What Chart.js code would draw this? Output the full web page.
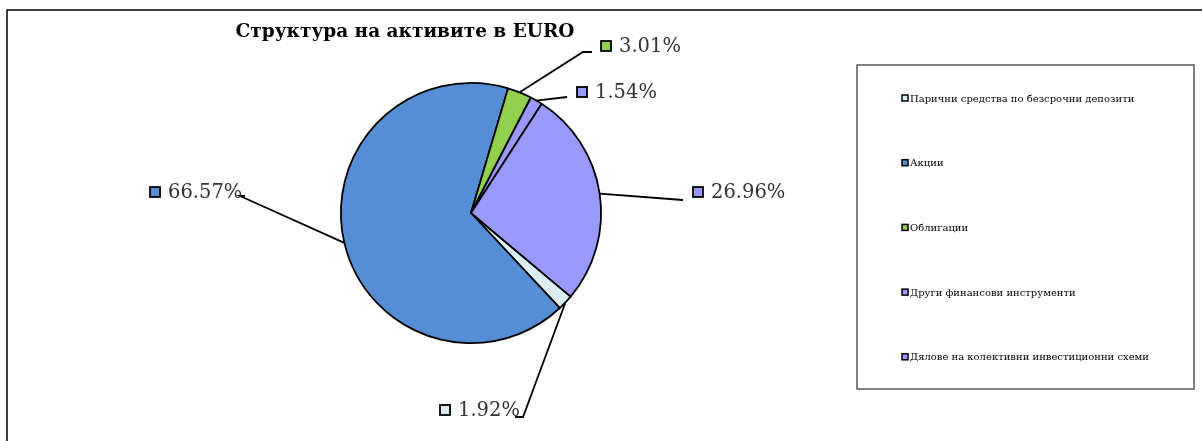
<!DOCTYPE html>
<html>
<head>
<meta charset="utf-8">
<script src="https://cdn.jsdelivr.net/npm/chart.js@4.4.1/dist/chart.umd.min.js"></script>
<style>
  html, body { margin: 0; padding: 0; background: #fff; }
  #wrap { position: relative; width: 1202px; height: 441px; }
</style>
</head>
<body>
<div id="wrap"><canvas id="pie-chart" width="1202" height="441"></canvas></div>
<script>
// chart data
const chartTitle = 'Структура на активите в EURO';
const categories = [
    'Парични средства по безсрочни депозити',
    'Акции',
    'Облигации',
    'Други финансови инструменти',
    'Дялове на колективни инвестиционни схеми'
];
const shares = [1.92, 66.57, 3.01, 1.54, 26.96];
const sliceColors = ['#DBEEF4', '#558ED5', '#92D050', '#9999FF', '#9999FF'];

// label placement around the pie, relative to the pie centre (layout only)
// elbow = where the leader line bends, box = left edge of the label marker
const labelLayout = [
    { elbow: [52, 204], end: [44, 204], box: [-31, 197] },
    { elbow: [-231, -17], end: [-226, -17], box: [-321, -21] },
    { elbow: [112, -161], end: [121, -161], box: [130, -167] },
    { elbow: [96, -116], end: [96, -116], box: [106, -121] },
    { elbow: [212, -13], end: [212, -13], box: [222, -21] }
];

const fontSerif = '"DejaVu Serif", "Liberation Serif", serif';

const pieLabels = {
    id: 'pieLabels',
    afterDatasetsDraw(chart) {
        const ctx = chart.ctx;
        const meta = chart.getDatasetMeta(0);
        ctx.save();
        meta.data.forEach((arc, i) => {
            const p = arc.getProps(['x', 'y', 'startAngle', 'endAngle', 'outerRadius'], true);
            const mid = (p.startAngle + p.endAngle) / 2;
            const sx = p.x + Math.cos(mid) * p.outerRadius;
            const sy = p.y + Math.sin(mid) * p.outerRadius;
            const lay = labelLayout[i];

            // leader line
            ctx.strokeStyle = '#000';
            ctx.lineWidth = 1.8;
            ctx.beginPath();
            ctx.moveTo(sx, sy);
            ctx.lineTo(p.x + lay.elbow[0], p.y + lay.elbow[1]);
            ctx.lineTo(p.x + lay.end[0], p.y + lay.end[1]);
            ctx.stroke();

            // marker + value
            const bx = p.x + lay.box[0];
            const by = p.y + lay.box[1];
            ctx.fillStyle = sliceColors[i];
            ctx.fillRect(bx, by - 5, 10, 10);
            ctx.lineWidth = 1.8;
            ctx.strokeStyle = '#000';
            ctx.strokeRect(bx, by - 5, 10, 10);

            ctx.fillStyle = '#333';
            ctx.font = '19.5px ' + fontSerif;
            ctx.textBaseline = 'middle';
            ctx.textAlign = 'left';
            ctx.fillText(shares[i].toFixed(2) + '%', bx + 18, by + 1);
        });
        ctx.restore();
    }
};

const frameAndLegend = {
    id: 'frameAndLegend',
    beforeDraw(chart) {
        const ctx = chart.ctx;
        ctx.save();
        ctx.fillStyle = '#fff';
        ctx.fillRect(0, 0, chart.width, chart.height);

        // outer chart border (left and top are visible)
        ctx.strokeStyle = '#000';
        ctx.lineWidth = 1.5;
        ctx.beginPath();
        ctx.moveTo(7, chart.height);
        ctx.lineTo(7, 10);
        ctx.lineTo(chart.width, 10);
        ctx.stroke();

        // title
        ctx.fillStyle = '#000';
        ctx.font = 'bold 18.5px ' + fontSerif;
        ctx.textAlign = 'center';
        ctx.textBaseline = 'middle';
        ctx.fillText(chartTitle, 405, 32);

        // legend box
        ctx.strokeStyle = '#555';
        ctx.lineWidth = 1.5;
        ctx.strokeRect(857, 65, 337, 324);
        ctx.font = '10px ' + fontSerif;
        ctx.textAlign = 'left';
        categories.forEach((name, i) => {
            const y = 98 + i * 64.7;
            ctx.fillStyle = sliceColors[i];
            ctx.fillRect(902, y - 3, 6, 6);
            ctx.strokeStyle = '#000';
            ctx.lineWidth = 1.5;
            ctx.strokeRect(902, y - 3, 6, 6);
            ctx.fillStyle = '#000';
            ctx.fillText(name, 910, y + 1);
        });
        ctx.restore();
    }
};

const ctx = document.getElementById('pie-chart').getContext('2d');

const chart = new Chart(ctx, {
    type: 'pie',
    data: {
        labels: categories,
        datasets: [{
            data: shares,
            backgroundColor: sliceColors,
            borderColor: '#000',
            borderWidth: 1.8
        }]
    },
    options: {
        responsive: false,
        animation: false,
        rotation: 130,
        layout: {
            padding: { left: 340, right: 600, top: 82, bottom: 97 }
        },
        plugins: {
            legend: { display: false },
            title: { display: false },
            tooltip: { enabled: false }
        }
    },
    plugins: [frameAndLegend, pieLabels]
});
</script>
</body>
</html>
